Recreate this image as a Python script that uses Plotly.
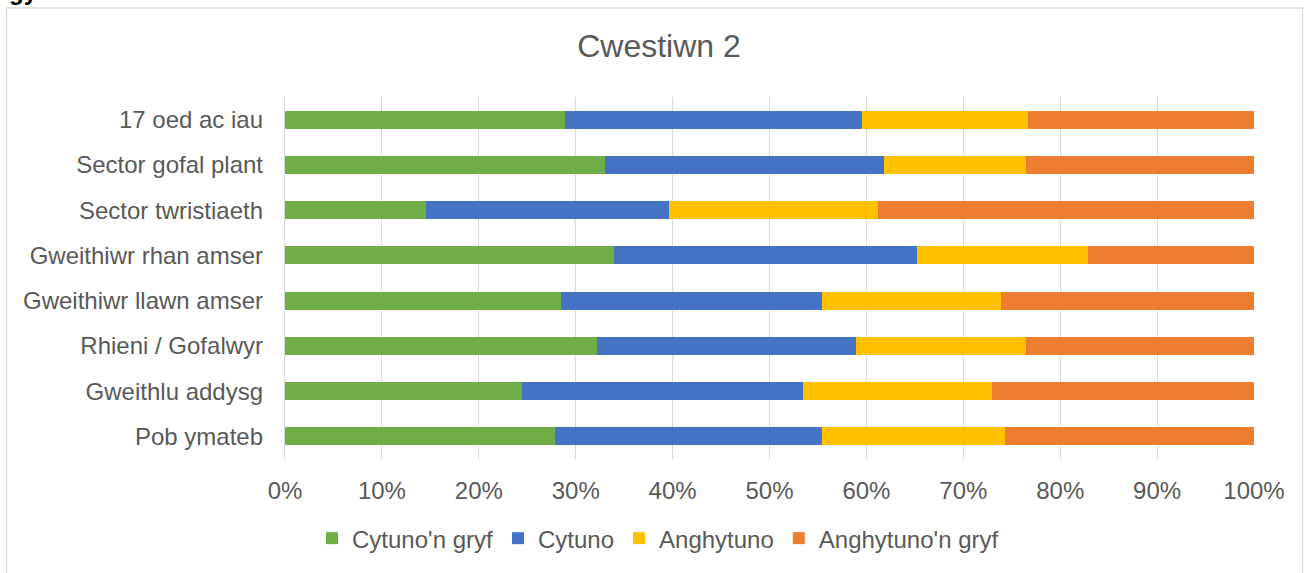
import plotly.graph_objects as go

categories = ["17 oed ac iau", "Sector gofal plant", "Sector twristiaeth",
              "Gweithiwr rhan amser", "Gweithiwr llawn amser", "Rhieni / Gofalwyr",
              "Gweithlu addysg", "Pob ymateb"]
series_names = ["Cytuno'n gryf", "Cytuno", "Anghytuno", "Anghytuno'n gryf"]
cytuno_gryf = [28.9, 33.0, 14.5, 34.0, 28.5, 32.2, 24.5, 27.9]
cytuno = [30.6, 28.8, 25.1, 31.2, 26.9, 26.7, 29.0, 27.5]
anghytuno = [17.2, 14.7, 21.6, 17.7, 18.5, 17.6, 19.5, 18.9]
anghytuno_gryf = [23.3, 23.5, 38.8, 17.1, 26.1, 23.5, 27.0, 25.7]
x_tickvals = [0, 10, 20, 30, 40, 50, 60, 70, 80, 90, 100]
x_ticktext = ["0%", "10%", "20%", "30%", "40%", "50%", "60%", "70%", "80%", "90%", "100%"]
colors = ["#70AD47", "#4472C4", "#FFC000", "#ED7D31"]

FONT = "Liberation Sans, Arial, sans-serif"
TXT = "#595959"

fig = go.Figure()
for name, vals, col in zip(series_names, [cytuno_gryf, cytuno, anghytuno, anghytuno_gryf], colors):
    fig.add_trace(go.Bar(y=categories, x=vals, name=name, orientation="h",
                         marker=dict(color=col, line=dict(width=0))))

# plot area geometry (px)
L, R, T, B = 285, 1254, 97, 461
W, H = 1310, 573
pw, ph = R - L, B - T

def px_x(x):
    return (x - L) / pw

def px_y(y):
    return (B - y) / ph

fig.update_layout(
    width=W, height=H,
    barmode="stack", bargap=0.6,
    margin=dict(l=L, r=W - R, t=T, b=H - B, pad=0),
    paper_bgcolor="white", plot_bgcolor="white",
    font=dict(family=FONT, size=24, color=TXT),
    title=dict(text="Cwestiwn 2", font=dict(family=FONT, size=32, color=TXT),
               x=659 / W, xanchor="center", xref="container",
               y=1 - 46 / H, yanchor="middle", yref="container"),
    xaxis=dict(range=[0, 100], tickvals=x_tickvals, ticktext=x_ticktext,
               showgrid=True, gridcolor="#D9D9D9", gridwidth=1.3,
               zeroline=False, showline=False, ticks="",
               tickfont=dict(size=24, color=TXT), ticklabelstandoff=15),
    yaxis=dict(autorange="reversed", showgrid=False, zeroline=False,
               showline=True, linecolor="#D9D9D9", linewidth=1.3, ticks="",
               tickfont=dict(size=24, color=TXT), ticklabelstandoff=16),
    legend=dict(orientation="h", x=px_x(658), xanchor="center",
                y=px_y(541), yanchor="middle", font=dict(size=24, color=TXT),
                traceorder="normal", bgcolor="rgba(0,0,0,0)"),
    showlegend=True,
)

# chart frame
fig.add_shape(type="rect", xref="paper", yref="paper",
              x0=px_x(6.5), x1=px_x(1302.5), y0=px_y(590), y1=px_y(7.5),
              line=dict(color="#D9D9D9", width=1.3), fillcolor="rgba(0,0,0,0)", layer="below")

# cut-off heading fragment at top-left (as in the reference)
fig.add_annotation(text="<b>gy</b>", xref="paper", yref="paper",
                   x=px_x(7), xanchor="left", y=px_y(6), yanchor="bottom",
                   showarrow=False, font=dict(family=FONT, size=24, color="#000000"))

fig.write_html("out.html", config={"displayModeBar": False},
               post_script="document.body.style.margin='0';")
